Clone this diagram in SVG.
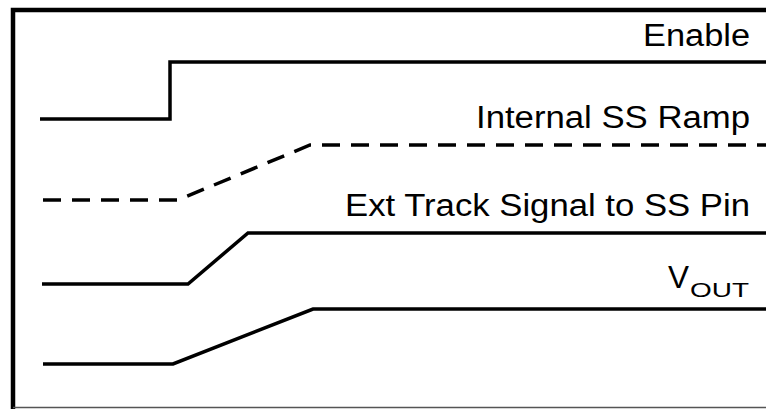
<svg xmlns="http://www.w3.org/2000/svg" width="766" height="409" viewBox="0 0 766 409">
<style>
.sig{fill:none;stroke:#000;stroke-width:3.5;stroke-linejoin:miter}
.dash{stroke-dasharray:18 11}
.lbl{font-family:"Liberation Sans",Arial,sans-serif;font-size:31px;fill:#000;text-anchor:end}
.sub{font-size:21px}
</style>
<rect width="766" height="409" fill="#fff"/>
<g id="frame">
<path d="M13,409 V10 H766" fill="none" stroke="#000" stroke-width="4.5"/>
<line x1="13" y1="407.5" x2="766" y2="407.5" stroke="#555" stroke-width="1.5"/>
</g>
<g id="connectors">
<path id="enable-wave" class="sig" d="M40,119 H170 V62 H766"/>
<path id="ss-ramp-wave" class="sig dash" d="M43,200 H178 L310,145 H766"/>
<path id="ext-track-wave" class="sig" d="M42,284 H188 L248,233 H766"/>
<path id="vout-wave" class="sig" d="M43,364 H173 L313,309 H766"/>
</g>
<g id="enable"><text class="lbl" x="750" y="46" textLength="107" lengthAdjust="spacingAndGlyphs">Enable</text></g>
<g id="internal-ss-ramp"><text class="lbl" x="750" y="128" textLength="274" lengthAdjust="spacingAndGlyphs">Internal SS Ramp</text></g>
<g id="ext-track"><text class="lbl" x="750" y="216" textLength="405" lengthAdjust="spacingAndGlyphs">Ext Track Signal to SS Pin</text></g>
<g id="vout"><text class="lbl" x="689" y="288" textLength="21" lengthAdjust="spacingAndGlyphs">V</text><text class="lbl sub" x="749" y="297" textLength="59" lengthAdjust="spacingAndGlyphs">OUT</text></g>
</svg>
